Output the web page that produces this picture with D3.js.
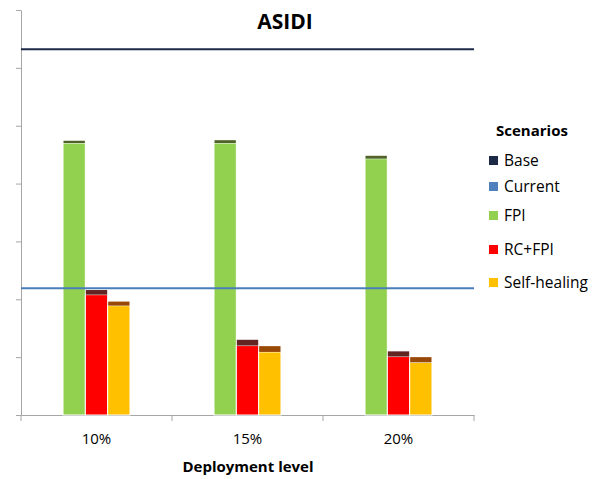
<!DOCTYPE html>
<html>
<head>
<meta charset="utf-8">
<script src="https://cdn.jsdelivr.net/npm/d3@7"></script>
<style>
  body { margin: 0; background: #fff; }
  text { font-family: "Open Sans", sans-serif; fill: #000; }
</style>
</head>
<body>
<div id="chart"></div>
<script>
// data (y axis has no labels, units are tick steps)
var categories = ["10%", "15%", "20%"]
var series = ["FPI", "RC+FPI", "Self-healing"]
var fpiValues = [4.70, 4.70, 4.43]
var fpiCaps = [0.04, 0.05, 0.05]
var rcValues = [2.08, 1.20, 1.01]
var rcCaps = [0.08, 0.10, 0.09]
var shValues = [1.89, 1.09, 0.91]
var shCaps = [0.07, 0.10, 0.09]
var baseValue = 6.32
var currentValue = 2.19
var legendLabels = ["Base", "Current", "FPI", "RC+FPI", "Self-healing"]
var yTicks = [0, 1, 2, 3, 4, 5, 6, 7]

var colors = {"FPI": "#92d050", "RC+FPI": "#ff0000", "Self-healing": "#ffc000"}
var capColors = {"FPI": "#4f6228", "RC+FPI": "#632523", "Self-healing": "#984807"}
var legendColors = ["#1c2a48", "#4f81bd", "#92d050", "#ff0000", "#ffc000"]

var width = 600
var height = 479
var plotLeft = 21, plotRight = 474, plotTop = 10, plotBottom = 415

var svg = d3.select("#chart")
  .append("svg")
    .attr("width", width)
    .attr("height", height)

var x = d3.scaleBand()
  .domain(categories)
  .range([plotLeft, plotRight])

var xInner = d3.scaleBand()
  .domain(series)
  .range([42, 109])

var y = d3.scaleLinear()
  .domain([0, 7])
  .range([plotBottom, plotTop])

// y axis, ticks only
var yAxis = svg.append("g")
  .attr("transform", "translate(" + plotLeft + ",0)")
  .call(d3.axisLeft(y).tickValues(yTicks).tickSizeInner(5).tickSizeOuter(0).tickFormat(""))
yAxis.selectAll("line, path").attr("stroke", "#a6a6a6")

// x axis with ticks at band edges
var xAxis = svg.append("g")
  .attr("transform", "translate(0," + plotBottom + ")")
  .call(d3.axisBottom(x).tickSize(0).tickPadding(18))
xAxis.select("path").attr("stroke", "#a6a6a6")
xAxis.selectAll("text")
  .style("font-size", "15px")
  .style("font-family", "'Open Sans', sans-serif")
  .attr("fill", "#000")
svg.append("g")
  .selectAll("line")
  .data(categories.concat(["end"]))
  .enter()
  .append("line")
    .attr("x1", function(d) { return d == "end" ? plotRight : x(d) })
    .attr("x2", function(d) { return d == "end" ? plotRight : x(d) })
    .attr("y1", plotBottom)
    .attr("y2", plotBottom + 6)
    .attr("stroke", "#a6a6a6")

var rows = []
categories.forEach(function(c, i) {
  rows.push({cat: c, s: "FPI", v: fpiValues[i], cap: fpiCaps[i]})
  rows.push({cat: c, s: "RC+FPI", v: rcValues[i], cap: rcCaps[i]})
  rows.push({cat: c, s: "Self-healing", v: shValues[i], cap: shCaps[i]})
})

var bars = svg.append("g")
  .selectAll("g")
  .data(rows)
  .enter()
  .append("g")
    .attr("transform", function(d) { return "translate(" + (x(d.cat) + xInner(d.s)) + ",0)" })

bars.append("rect")
  .attr("width", xInner.bandwidth())
  .attr("y", function(d) { return y(d.v) })
  .attr("height", function(d) { return y(0) - y(d.v) })
  .attr("fill", function(d) { return colors[d.s] })
  .attr("stroke", "#fff")
  .attr("stroke-width", 1)

bars.append("rect")
  .attr("x", 0.5)
  .attr("width", xInner.bandwidth() - 1)
  .attr("y", function(d) { return y(d.v + d.cap) })
  .attr("height", function(d) { return y(d.v) - y(d.v + d.cap) })
  .attr("fill", function(d) { return capColors[d.s] })

// reference lines
svg.append("line")
  .attr("x1", plotLeft).attr("x2", plotRight)
  .attr("y1", y(baseValue)).attr("y2", y(baseValue))
  .attr("stroke", "#1c2a48")
  .attr("stroke-width", 2)

svg.append("line")
  .attr("x1", plotLeft).attr("x2", plotRight)
  .attr("y1", y(currentValue)).attr("y2", y(currentValue))
  .attr("stroke", "#4a7ebb")
  .attr("stroke-width", 2)

// title and axis title
svg.append("text")
  .attr("x", 285).attr("y", 29)
  .attr("text-anchor", "middle")
  .style("font-size", "21px")
  .style("font-weight", "bold")
  .text("ASIDI")

svg.append("text")
  .attr("x", 248).attr("y", 472)
  .attr("text-anchor", "middle")
  .style("font-size", "15px")
  .style("font-weight", "bold")
  .text("Deployment level")

// legend
svg.append("text")
  .attr("x", 496).attr("y", 136)
  .style("font-size", "15px")
  .style("font-weight", "bold")
  .text("Scenarios")

var legendY = [160, 186, 215, 249, 282]
var legend = svg.append("g")
  .selectAll("g")
  .data(legendLabels)
  .enter()
  .append("g")
    .attr("transform", function(d, i) { return "translate(489," + legendY[i] + ")" })

legend.append("rect")
  .attr("x", 0).attr("y", -4)
  .attr("width", 9).attr("height", 9)
  .attr("fill", function(d, i) { return legendColors[i] })

legend.append("text")
  .attr("x", 15).attr("y", 6)
  .style("font-size", "15.5px")
  .text(function(d) { return d })
</script>
</body>
</html>
